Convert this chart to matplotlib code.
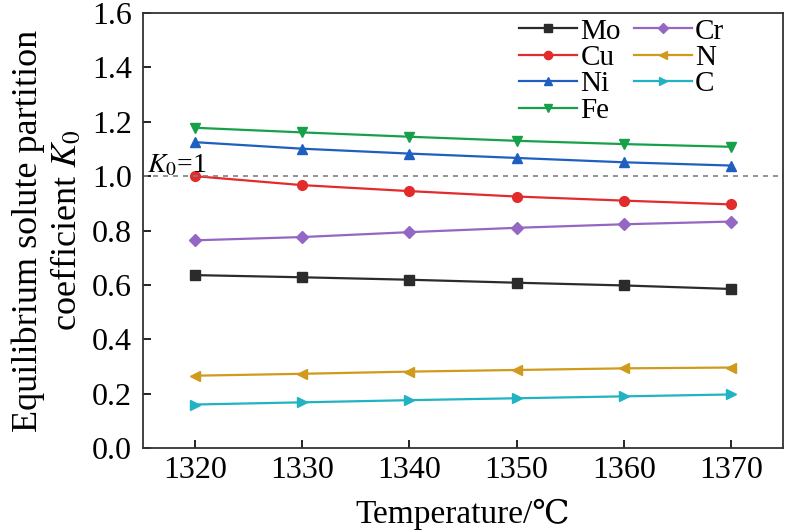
import matplotlib.pyplot as plt

# ============================================================
# Data
# ============================================================

temperature = [1320, 1330, 1340, 1350, 1360, 1370]

k_mo = [0.636, 0.628, 0.619, 0.608, 0.598, 0.585]
k_cu = [1.000, 0.967, 0.945, 0.925, 0.910, 0.896]
k_ni = [1.125, 1.101, 1.083, 1.067, 1.051, 1.039]
k_fe = [1.178, 1.161, 1.145, 1.130, 1.118, 1.108]
k_cr = [0.764, 0.776, 0.794, 0.810, 0.823, 0.833]
k_n = [0.266, 0.273, 0.281, 0.287, 0.293, 0.296]
k_c = [0.160, 0.168, 0.176, 0.183, 0.190, 0.197]

y_ticks = [0.0, 0.2, 0.4, 0.6, 0.8, 1.0, 1.2, 1.4, 1.6]

series = [
    ("Mo", k_mo, "#2b2b2b", "s"),
    ("Cu", k_cu, "#e32b2b", "o"),
    ("Ni", k_ni, "#1f5fbf", "^"),
    ("Fe", k_fe, "#17a04a", "v"),
    ("Cr", k_cr, "#9467c4", "D"),
    ("N", k_n, "#d09a1c", "<"),
    ("C", k_c, "#22b3c2", ">"),
]

# ============================================================
# Plot
# ============================================================

plt.rcParams["font.family"] = ["Liberation Serif", "DejaVu Serif", "DejaVu Sans"]
plt.rcParams["mathtext.fontset"] = "stix"

fig = plt.figure(figsize=(7.85, 5.3), dpi=100)
ax = fig.add_axes([0.182, 0.1547, 0.8155, 0.8207])

for name, values, color, marker in series:
    ax.plot(
        temperature,
        values,
        color=color,
        marker=marker,
        markersize=7 if marker != "D" else 6,
        linewidth=1.6,
        label=name
    )

ax.axhline(1.0, color="#808080", linestyle=(0, (3, 3)), linewidth=1.2)

ax.text(1315.5, 1.012, "$K_0$=1", fontsize=20, ha="left", va="baseline")

ax.set_xlim(1315.15, 1374.85)
ax.set_ylim(0.0, 1.6)
ax.set_xticks(temperature)
ax.set_yticks(y_ticks)
ax.set_yticklabels([f"{v:.1f}" for v in y_ticks])

ax.tick_params(direction="in", labelsize=23, length=6, width=1.2)
ax.tick_params(axis="y", pad=8)
ax.tick_params(axis="x", pad=6)
for spine in ax.spines.values():
    spine.set_linewidth(1.3)
    spine.set_color("#333333")

ax.set_xlabel("Temperature/℃", fontsize=24)
ax.set_ylabel("Equilibrium solute partition\ncoefficient $K_0$", fontsize=26)
ax.xaxis.set_label_coords(0.5, -0.118)
ax.yaxis.set_label_coords(-0.092, 0.5)

ax.legend(
    loc="upper left",
    bbox_to_anchor=(0.583, 0.995),
    ncol=2,
    frameon=False,
    fontsize=21,
    handlelength=2.0,
    handletextpad=0.1,
    columnspacing=0.45,
    labelspacing=0.0,
    borderaxespad=0.0,
    borderpad=0.1,
    markerscale=0.85
)

fig.savefig("out.png", dpi=100)
plt.close(fig)
